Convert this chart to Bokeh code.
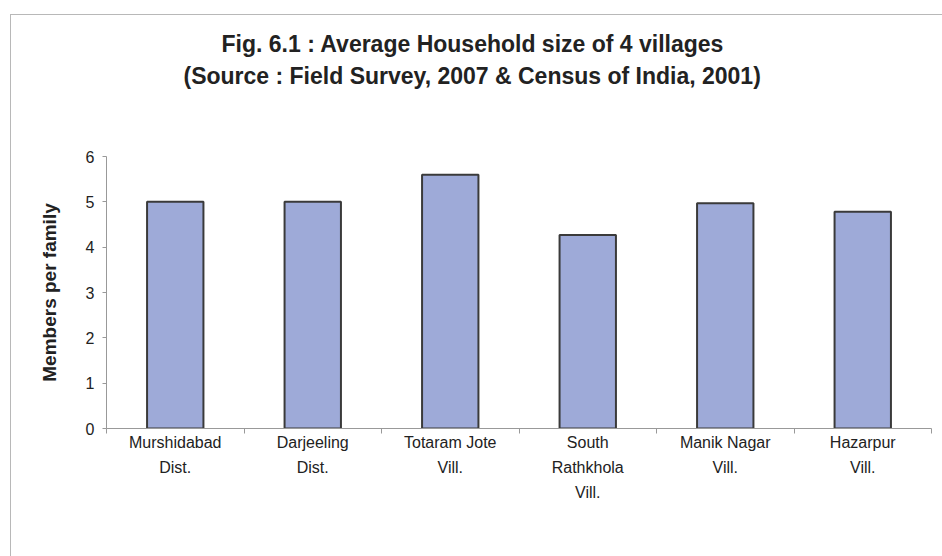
from bokeh.plotting import figure
from bokeh.models import Range1d, FixedTicker, Title
from bokeh.embed import file_html
from bokeh.resources import INLINE

categories = ["Murshidabad\nDist.", "Darjeeling\nDist.", "Totaram Jote\nVill.",
              "South\nRathkhola\nVill.", "Manik Nagar\nVill.", "Hazarpur\nVill."]
values = [5.0, 5.0, 5.6, 4.27, 4.97, 4.78]
y_ticks = [0, 1, 2, 3, 4, 5, 6]
title_lines = ["Fig. 6.1 : Average Household size of 4 villages",
               "(Source : Field Survey, 2007 & Census of India, 2001)"]

xs = [i + 0.5 for i in range(len(categories))]
bounds = [i for i in range(len(categories) + 1)]

FONT = "Liberation Sans"

p = figure(width=932, height=542, output_backend="svg", toolbar_location=None,
           x_range=Range1d(0, len(categories)), y_range=Range1d(0, 6),
           min_border_left=95, min_border_right=12, min_border_top=141, min_border_bottom=129)
p.margin = (14, 0, 0, 10)
p.styles = {"border-left": "1px solid #b8b8b8", "border-top": "1px solid #b8b8b8"}

p.vbar(x=xs, top=values, width=0.41, bottom=0,
       fill_color="#9eaad8", line_color="#3a3a3a", line_width=2)

p.outline_line_color = None
p.grid.grid_line_color = None
p.background_fill_color = "white"
p.border_fill_color = "white"

# x axis
xa = p.xaxis[0]
xa.ticker = FixedTicker(ticks=xs, minor_ticks=bounds)
xa.major_label_overrides = {x: c for x, c in zip(xs, categories)}
xa.major_tick_line_color = None
xa.major_tick_out = 0
xa.major_tick_in = 0
xa.minor_tick_line_color = "#999999"
xa.minor_tick_out = 5
xa.minor_tick_in = 0
xa.axis_line_color = "#999999"
xa.major_label_text_font = FONT
xa.major_label_text_font_size = "16px"
xa.major_label_text_line_height = 1.48
xa.major_label_text_color = "#222222"
xa.major_label_standoff = 0

# y axis
ya = p.yaxis[0]
ya.ticker = FixedTicker(ticks=y_ticks)
ya.minor_tick_line_color = None
ya.major_tick_line_color = "#999999"
ya.major_tick_out = 4
ya.major_tick_in = 0
ya.axis_line_color = "#999999"
ya.major_label_text_font = FONT
ya.major_label_text_font_size = "16px"
ya.major_label_text_color = "#222222"
ya.major_label_standoff = 8
ya.axis_label = "Members per family"
ya.axis_label_text_font = FONT
ya.axis_label_text_font_size = "19px"
ya.axis_label_text_font_style = "bold"
ya.axis_label_text_color = "#222222"
ya.axis_label_standoff = 23

# title: a blank spacer next to the frame, then the two lines (centred on the chart)
spacer = Title(text=" ", text_font=FONT, text_font_size="22px", standoff=37)
p.add_layout(spacer, "above")
for txt, so, off in zip(reversed(title_lines), [8, 0], [77, 115]):
    p.add_layout(Title(text=txt, align="left", offset=off,
                       text_font=FONT, text_font_size="23px", text_font_style="bold",
                       text_color="#222222", standoff=so), "above")

open("out.html", "w").write(file_html(p, INLINE))
